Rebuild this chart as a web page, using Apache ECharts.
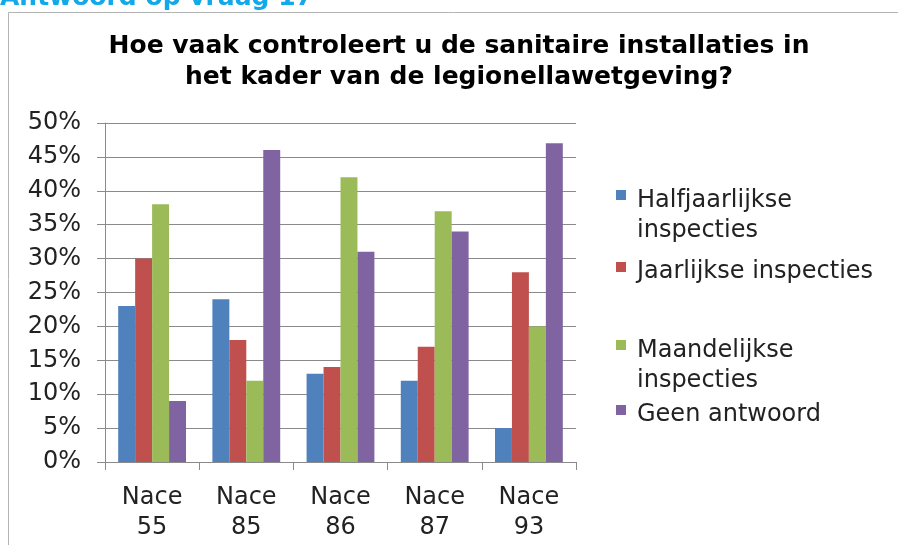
<!DOCTYPE html>
<html>
<head>
<meta charset="utf-8">
<script src="https://cdn.jsdelivr.net/npm/echarts@6/dist/echarts.min.js"></script>
<style>
  html, body { margin: 0; padding: 0; background: #ffffff; }
  #chart { width: 898px; height: 545px; }
</style>
</head>
<body>
<div id="chart"></div>
<script>
// Survey answers per NACE sector (share of respondents, %)
const categories = ['Nace\n55', 'Nace\n85', 'Nace\n86', 'Nace\n87', 'Nace\n93'];
const seriesNames = ['Halfjaarlijkse inspecties', 'Jaarlijkse inspecties', 'Maandelijkse inspecties', 'Geen antwoord'];
const legendLabels = [['Halfjaarlijkse', 'inspecties'], ['Jaarlijkse inspecties'], ['Maandelijkse', 'inspecties'], ['Geen antwoord']];
const halfjaarlijks = [23, 24, 13, 12, 5];
const jaarlijks = [30, 18, 14, 17, 28];
const maandelijks = [38, 12, 42, 37, 20];
const geenAntwoord = [9, 46, 31, 34, 47];
const yTicks = { min: 0, max: 50, interval: 5 };

const values = [halfjaarlijks, jaarlijks, maandelijks, geenAntwoord];
const colors = ['#4F81BD', '#C0504D', '#9BBB59', '#8064A2'];
const FONT = 'DejaVu Sans';
const TEXT = '#222222';
const LINE = '#8a8a8a';

// one legend block per series so the uneven vertical spacing can be kept;
// a spacer line pushes the first text line slightly below the marker
const legendTops = [164, 251, 314, 394];
const legends = seriesNames.map((name, i) => {
  const lines = legendLabels[i];
  const spacer = lines.length > 1 ? 'gap2' : 'gap1';
  return {
    data: [name],
    orient: 'vertical',
    left: 616,
    top: legendTops[i],
    padding: 0,
    icon: 'rect',
    itemWidth: 10,
    itemHeight: 10,
    formatter: () => '{' + spacer + '| }\n' + lines.map(l => '{t|' + l + '}').join('\n'),
    textStyle: {
      fontFamily: FONT,
      fontSize: 24,
      color: TEXT,
      rich: {
        gap1: { fontSize: 2, lineHeight: 10 },
        gap2: { fontSize: 2, lineHeight: 42 },
        t: { fontFamily: FONT, fontSize: 24, lineHeight: 30, color: TEXT, padding: [0, 0, 0, 6] }
      }
    }
  };
});

const chart = echarts.init(document.getElementById('chart'), null, { renderer: 'canvas' });
chart.setOption({
  animation: false,
  backgroundColor: '#ffffff',
  title: {
    text: 'Hoe vaak controleert u de sanitaire installaties in\nhet kader van de legionellawetgeving?',
    left: 459,
    top: 31,
    padding: 0,
    textAlign: 'center',
    textStyle: {
      fontFamily: FONT,
      fontSize: 25,
      fontWeight: 'bold',
      color: '#000000',
      lineHeight: 31
    }
  },
  graphic: [
    {
      type: 'rect',
      silent: true,
      shape: { x: 8.5, y: 12.5, width: 1000, height: 1000 },
      style: { fill: 'none', stroke: '#b4b4b4', lineWidth: 1 }
    },
    {
      type: 'text',
      silent: true,
      x: 0,
      y: -2,
      style: {
        text: 'Antwoord op vraag 17',
        fontFamily: FONT,
        fontSize: 25,
        fontWeight: 'bold',
        fill: '#12a9ea',
        verticalAlign: 'middle',
        align: 'left'
      }
    }
  ],
  legend: legends,
  grid: { left: 105, top: 123, width: 471, height: 339, containLabel: false },
  xAxis: {
    type: 'category',
    data: categories,
    axisLine: { show: true, lineStyle: { color: LINE, width: 1 } },
    axisTick: { show: true, length: 8, lineStyle: { color: LINE } },
    axisLabel: {
      fontFamily: FONT,
      fontSize: 24,
      color: TEXT,
      lineHeight: 30,
      margin: 21,
      interval: 0
    },
    splitLine: { show: false }
  },
  yAxis: {
    type: 'value',
    min: yTicks.min,
    max: yTicks.max,
    interval: yTicks.interval,
    axisLine: { show: true, lineStyle: { color: LINE, width: 1 } },
    axisTick: { show: true, length: 8, lineStyle: { color: LINE } },
    axisLabel: {
      fontFamily: FONT,
      fontSize: 24,
      color: TEXT,
      margin: 24,
      formatter: '{value}%'
    },
    splitLine: { show: true, lineStyle: { color: LINE, width: 1 } }
  },
  series: seriesNames.map((name, i) => ({
    name: name,
    type: 'bar',
    data: values[i],
    barGap: '0%',
    barCategoryGap: '28%',
    itemStyle: { color: colors[i] }
  }))
});
</script>
</body>
</html>
